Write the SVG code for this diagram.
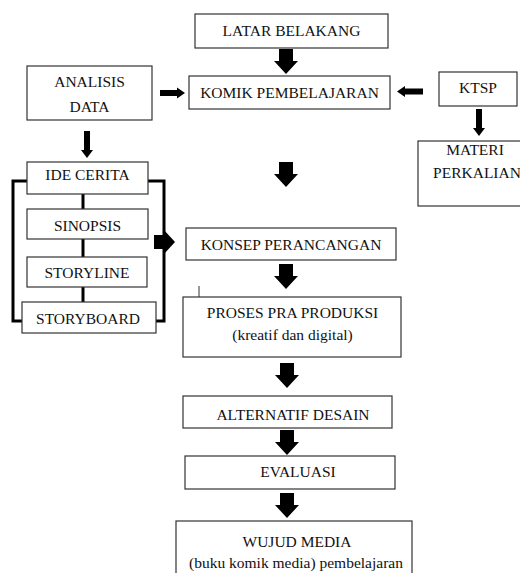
<svg xmlns="http://www.w3.org/2000/svg" xmlns:xlink="http://www.w3.org/1999/xlink" width="520" height="573" viewBox="0 0 520 573">
<style>
.box{fill:#fff;stroke:#333;stroke-width:1.2}
.t{font-family:"Liberation Serif","Times New Roman",serif;font-size:15.5px;fill:#111;text-anchor:middle}
.ln{stroke:#000;stroke-width:3;fill:none}
.ar{fill:#000}
</style>
<defs>
<path id="down" d="M-7,0 H7 V12 H12 L0,25 L-12,12 H-7 Z"/>
<path id="downThin" d="M-3,0 H3 V19 H6 L0,27 L-6,19 H-3 Z"/>
</defs>
<rect width="520" height="573" fill="#fff"/>
<g id="connectors" class="ar">
<use xlink:href="#down" x="286" y="49"/>
<use xlink:href="#down" x="286" y="162"/>
<use xlink:href="#down" x="286" y="264"/>
<use xlink:href="#down" x="287" y="363"/>
<use xlink:href="#down" x="287" y="430"/>
<use xlink:href="#down" x="287" y="493"/>
<use xlink:href="#downThin" x="87" y="131"/>
<use xlink:href="#downThin" x="479" y="109"/>
<path d="M160,90 H177 V87.5 L185,93 L177,98.5 V96 H160 Z"/>
<path d="M423,88.5 H405 V86 L397,91.5 L405,97 V94.5 H423 Z"/>
<path d="M154,235 H164 V230 L175,242 L164,254 V249 H154 Z"/>
<path class="ln" d="M27,181 H13 V321 H22"/>
<path class="ln" d="M148,181 H164 V321 H156"/>
<path class="ln" d="M83,194 V302"/>
<line x1="199" y1="286" x2="199" y2="299" stroke="#333" stroke-width="1"/>
</g>
<g id="latar"><rect class="box" x="195" y="14" width="193" height="34"/><text class="t" x="291.5" y="36">LATAR BELAKANG</text></g>
<g id="analisis"><rect class="box" x="27" y="66" width="125" height="54"/><text class="t" x="89.5" y="87">ANALISIS</text><text class="t" x="89.5" y="112">DATA</text></g>
<g id="komik"><rect class="box" x="189" y="76" width="201" height="33"/><text class="t" x="289.5" y="98">KOMIK PEMBELAJARAN</text></g>
<g id="ktsp"><rect class="box" x="439" y="72" width="78" height="34"/><text class="t" x="478" y="93">KTSP</text></g>
<g id="materi"><rect class="box" x="418" y="141" width="110" height="65"/><text class="t" x="475" y="155">MATERI</text><text class="t" x="477" y="178">PERKALIAN</text></g>
<g id="ide"><rect class="box" x="27" y="162" width="121" height="32"/><text class="t" x="87.5" y="180">IDE CERITA</text></g>
<g id="sinopsis"><rect class="box" x="27" y="209" width="121" height="30"/><text class="t" x="87.5" y="231">SINOPSIS</text></g>
<g id="storyline"><rect class="box" x="27" y="257" width="120" height="30"/><text class="t" x="87" y="278">STORYLINE</text></g>
<g id="storyboard"><rect class="box" x="22" y="302" width="134" height="31"/><text class="t" x="88" y="324">STORYBOARD</text></g>
<g id="konsep"><rect class="box" x="186" y="228" width="210" height="32"/><text class="t" x="291" y="250">KONSEP PERANCANGAN</text></g>
<g id="proses"><rect class="box" x="183" y="297" width="218" height="60"/><text class="t" x="292.5" y="318">PROSES PRA PRODUKSI</text><text class="t" x="292.5" y="340">(kreatif dan digital)</text></g>
<g id="alternatif"><rect class="box" x="183" y="396" width="209" height="32"/><text class="t" x="293" y="420">ALTERNATIF DESAIN</text></g>
<g id="evaluasi"><rect class="box" x="185" y="456" width="210" height="33"/><text class="t" x="298" y="477">EVALUASI</text></g>
<g id="wujud"><rect class="box" x="176" y="521" width="236" height="60"/><text class="t" x="297" y="547">WUJUD MEDIA</text><text class="t" x="296" y="568">(buku komik media) pembelajaran</text></g>
</svg>
